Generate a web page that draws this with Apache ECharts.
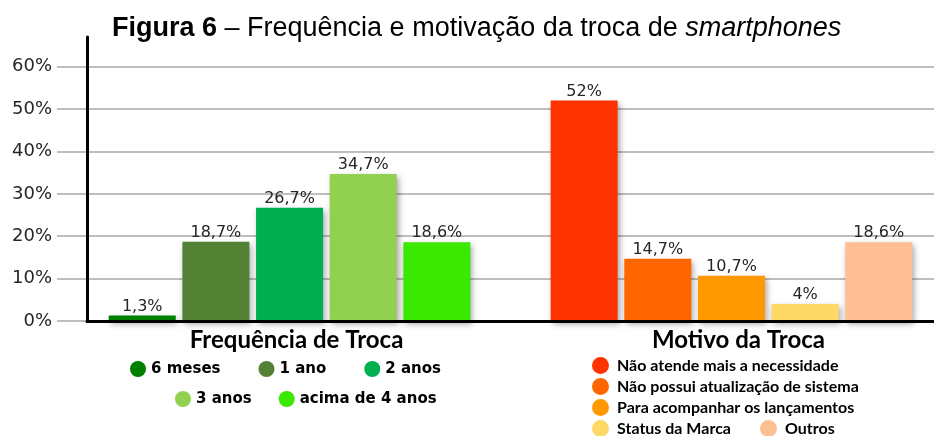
<!DOCTYPE html>
<html>
<head>
<meta charset="utf-8">
<title>Figura 6</title>
<script src="https://cdn.jsdelivr.net/npm/echarts@6/dist/echarts.min.js"></script>
<style>
  html, body { margin: 0; padding: 0; background: #fff; }
  #chart { width: 934px; height: 436px; }
</style>
</head>
<body>
<div id="chart"></div>
<script>
const groupNames = ['Frequência de Troca', 'Motivo da Troca'];
const freqLabels = ['6 meses', '1 ano', '2 anos', '3 anos', 'acima de 4 anos'];
const freqValues = [1.3, 18.7, 26.7, 34.7, 18.6];
const motivoLabels = ['Não atende mais a necessidade', 'Não possui atualização de sistema',
    'Para acompanhar os lançamentos', 'Status da Marca', 'Outros'];
const motivoValues = [52, 14.7, 10.7, 4, 18.6];
const yTicks = [0, 10, 20, 30, 40, 50, 60];

const freqColors = ['#008000', '#548235', '#00B050', '#92D050', '#3BE800'];
const motivoColors = ['#FF3300', '#FF6600', '#FF9900', '#FFD966', '#FFBF94'];

// category slots: bars sit on every other slot, the two groups separated by a wider gap
const slotCount = 23;
const slots = [];
for (let i = 0; i < slotCount; i++) slots.push('s' + i);

const groups = [
    { title: groupNames[0], labels: freqLabels, values: freqValues, colors: freqColors, start: 1 },
    { title: groupNames[1], labels: motivoLabels, values: motivoValues, colors: motivoColors, start: 13 }
];

const groupLabelAt = {};
const series = [];
groups.forEach(function (g) {
    groupLabelAt[g.start + 4] = g.title;
    g.labels.forEach(function (name, i) {
        const data = slots.map(function () { return '-'; });
        data[g.start + i * 2] = g.values[i];
        series.push({
            name: name,
            type: 'bar',
            xAxisIndex: 1,
            yAxisIndex: 1,
            stack: 'all',
            barWidth: 67,
            data: data,
            itemStyle: {
                color: g.colors[i],
                shadowColor: 'rgba(0,0,0,0.35)',
                shadowBlur: 6,
                shadowOffsetX: 2,
                shadowOffsetY: 3
            },
            label: {
                show: true,
                position: 'top',
                distance: 1,
                fontFamily: 'DejaVu Sans',
                fontSize: 16,
                color: '#262626',
                formatter: function (p) {
                    return String(p.value).replace('.', ',') + '%';
                }
            }
        });
    });
});

const leftLegendText = { fontFamily: 'DejaVu Sans', fontSize: 15, color: '#000', fontWeight: 'bold' };
const rightLegendText = {
    fontFamily: 'Lato', fontSize: 16, lineHeight: 17, color: '#000', fontWeight: 'bold',
    padding: [0, 0, 0, 3]
};

const chart = echarts.init(document.getElementById('chart'));

const option = {
    backgroundColor: '#fff',
    animation: false,
    title: {
        text: '{b|Figura 6} – Frequência e motivação da troca de {i|smartphones}',
        left: 107,
        top: 10,
        textStyle: {
            fontFamily: 'Liberation Sans',
            fontSize: 27,
            fontWeight: 'normal',
            color: '#000',
            rich: {
                b: { fontFamily: 'Liberation Sans', fontSize: 27, fontWeight: 'bold', color: '#000' },
                i: { fontFamily: 'Liberation Sans', fontSize: 27, fontStyle: 'italic', color: '#000' }
            }
        }
    },
    legend: [
        {
            data: freqLabels.slice(0, 3), left: 130, top: 361, itemGap: 38, padding: 0,
            icon: 'circle', itemWidth: 16, itemHeight: 16, selectedMode: false, textStyle: leftLegendText
        },
        {
            data: freqLabels.slice(3), left: 175, top: 391, itemGap: 27, padding: 0,
            icon: 'circle', itemWidth: 16, itemHeight: 16, selectedMode: false, textStyle: leftLegendText
        },
        {
            data: motivoLabels.slice(0, 3), left: 592, top: 357, orient: 'vertical', itemGap: 4, padding: 0,
            icon: 'circle', itemWidth: 17, itemHeight: 17, selectedMode: false, textStyle: rightLegendText
        },
        {
            data: motivoLabels.slice(3), left: 592, top: 420, itemGap: 29, padding: 0,
            icon: 'circle', itemWidth: 17, itemHeight: 17, selectedMode: false, textStyle: rightLegendText
        }
    ],
    grid: [
        { left: 57, right: 0, top: 37, bottom: 115 },
        { left: 87, right: 0, top: 37, bottom: 115 }
    ],
    xAxis: [
        { gridIndex: 0, type: 'category', data: [''], show: false },
        {
            gridIndex: 1,
            type: 'category',
            data: slots,
            z: 5,
            axisLine: { show: true, lineStyle: { color: '#000', width: 3 } },
            axisTick: { show: false },
            axisLabel: {
                interval: 0,
                margin: 7,
                padding: [0, 0, 0, 14],
                fontFamily: 'Lato',
                fontWeight: 'bold',
                fontSize: 24,
                color: '#000',
                formatter: function (v, i) { return groupLabelAt[i] || ''; }
            }
        }
    ],
    yAxis: [
        {
            gridIndex: 0,
            type: 'value',
            min: 0,
            max: 67,
            interval: 10,
            axisLine: { show: false },
            axisTick: { show: false },
            axisLabel: {
                margin: 5,
                showMaxLabel: false,
                fontFamily: 'DejaVu Sans',
                fontSize: 18,
                color: '#262626',
                formatter: function (v) { return yTicks.indexOf(v) >= 0 ? v + '%' : ''; }
            },
            splitLine: { show: true, showMaxLine: false, lineStyle: { color: '#A8A8A8', width: 1.5 } }
        },
        {
            gridIndex: 1,
            type: 'value',
            min: 0,
            max: 67,
            interval: 10,
            z: 5,
            axisLine: { show: true, lineStyle: { color: '#000', width: 3 } },
            axisTick: { show: false },
            axisLabel: { show: false },
            splitLine: { show: false }
        }
    ],
    series: series
};

chart.setOption(option);

window.onresize = function () {
    chart.resize();
};
</script>
</body>
</html>
